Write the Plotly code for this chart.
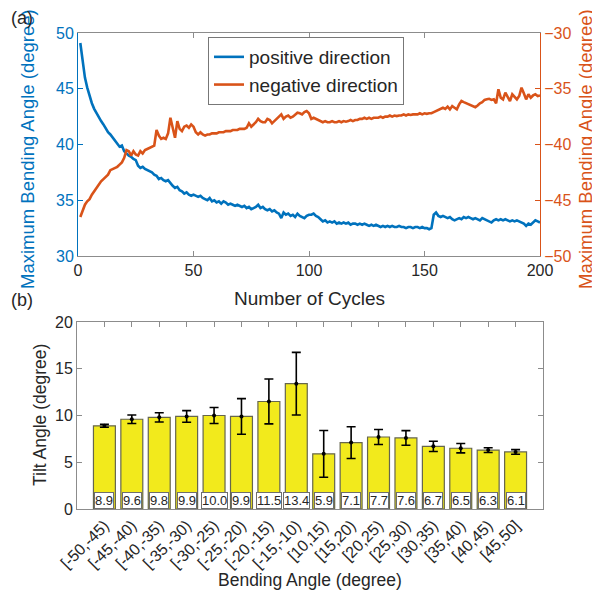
import plotly.graph_objects as go

cycles = list(range(1, 201))

positive = [
    49.1, 47.3, 46.0, 45.1, 44.3, 43.7, 43.2, 42.8, 42.4, 42.1,
    41.8, 41.4, 41.1, 40.9, 40.6, 40.3, 40.0, 39.8, 39.9, 39.4,
    39.2, 39.0, 38.9, 38.7, 38.6, 38.1, 37.9, 38.0, 37.8, 37.7,
    37.6, 37.5, 37.3, 37.2, 36.9, 37.0, 36.8, 36.7, 36.8, 36.5,
    36.3, 36.1, 36.2, 35.9, 35.8, 35.6, 35.7, 35.5, 35.4, 35.5,
    35.4, 35.3, 35.4, 35.2, 35.1, 35.0, 35.2, 34.9, 35.0, 34.8,
    34.9, 34.7, 34.9, 34.8, 34.6, 34.7, 34.6, 34.5, 34.6, 34.5,
    34.4, 34.5, 34.3, 34.4, 34.2, 34.3, 34.4, 34.6, 34.3, 34.4,
    34.2, 34.1, 34.2, 34.0, 34.1, 33.9, 33.8, 33.4, 33.9, 33.7,
    33.8, 33.6, 33.7, 33.5, 33.8, 33.6, 33.5, 33.4, 33.6, 33.7,
    33.7, 33.8, 33.6, 33.5, 33.3, 33.1, 33.2, 33.0, 33.1, 33.0,
    33.1, 32.9, 33.0, 32.9, 33.0, 32.9, 33.0, 32.8, 32.9, 32.9,
    32.8, 32.9, 32.8, 32.9, 32.8, 32.7, 32.8, 32.7, 32.8, 32.7,
    32.6, 32.7, 32.6, 32.7, 32.6, 32.7, 32.6, 32.6, 32.7, 32.6,
    32.6, 32.5, 32.6, 32.6, 32.5, 32.6, 32.6, 32.5, 32.6, 32.5,
    32.5, 32.4, 32.5, 33.7, 33.9, 33.6, 33.5, 33.6, 33.5, 33.4,
    33.5, 33.3, 33.2, 33.3, 33.4, 33.3, 33.5, 33.4, 33.5, 33.4,
    33.3, 33.4, 33.3, 33.2, 33.4, 33.3, 33.2, 33.1, 33.0, 33.2,
    33.3, 33.2, 33.3, 33.2, 33.3, 33.2, 33.1, 33.2, 33.1, 33.2,
    33.1, 33.0, 32.9, 32.7, 32.9, 32.8, 33.0, 33.2, 33.1, 33.0,
]

negative = [
    -46.5, -45.9, -45.4, -45.1, -44.9, -44.5, -44.2, -43.8, -43.5, -43.3,
    -43.1, -42.9, -42.7, -42.3, -42.2, -42.1, -42.0, -41.8, -41.6, -41.2,
    -40.5, -40.6, -41.0, -40.6, -40.9, -41.0, -40.6, -40.8, -40.5, -40.4,
    -40.3, -40.2, -40.1, -38.7, -39.2, -39.5, -39.4, -39.5, -39.0, -37.6,
    -38.4, -39.4, -37.9, -38.6, -38.8, -38.4, -38.3, -38.5, -38.2, -38.4,
    -38.9, -39.1, -38.9, -39.1, -39.2, -39.1, -39.1, -39.0, -39.0, -39.0,
    -38.9, -38.9, -38.9, -38.8, -38.8, -38.8, -38.7, -38.7, -38.7, -38.6,
    -38.6, -38.6, -38.5, -38.1, -38.4, -38.2, -38.0, -37.7, -37.9, -38.0,
    -38.0, -37.7, -37.8, -38.1, -37.9, -37.7, -37.5, -37.3, -37.7, -37.5,
    -37.4, -37.6, -37.5, -37.3, -37.15, -37.2, -37.3, -37.1, -37.0, -37.2,
    -37.7, -37.6, -37.7, -37.8, -37.9, -38.0, -37.9, -38.0, -38.0, -37.9,
    -38.0, -38.0, -37.9, -38.0, -37.9, -37.95, -37.9, -37.8, -37.9, -37.8,
    -37.8, -37.7, -37.7, -37.6, -37.7, -37.6, -37.7, -37.6, -37.6, -37.6,
    -37.5, -37.6, -37.5, -37.5, -37.4, -37.5, -37.4, -37.45, -37.4, -37.4,
    -37.3, -37.4, -37.3, -37.35, -37.3, -37.3, -37.3, -37.2, -37.3, -37.2,
    -37.25, -37.2, -37.2, -37.1, -37.0, -36.9, -36.8, -36.7, -36.8, -36.6,
    -36.85, -36.55, -36.7, -36.85, -36.4, -36.1, -36.2, -36.3, -36.4, -36.5,
    -36.6, -36.65, -36.5, -36.3, -36.2, -36.0, -35.95, -35.9, -36.0, -35.95,
    -36.3, -35.05, -35.8, -35.95, -35.35, -35.7, -36.1, -35.5, -35.7, -35.95,
    -35.65, -34.9, -35.4, -35.95, -35.5, -35.8, -35.6, -35.5, -35.65, -35.6,
]

bend_bins = ["[-50,-45)", "[-45,-40)", "[-40,-35)", "[-35,-30)", "[-30,-25)",
             "[-25,-20)", "[-20,-15)", "[-15,-10)", "[10,15)", "[15,20)",
             "[20,25)", "[25,30)", "[30,35)", "[35,40)", "[40,45)", "[45,50]"]
tilt_mean = [8.9, 9.6, 9.8, 9.9, 10.0, 9.9, 11.5, 13.4, 5.9, 7.1,
             7.7, 7.6, 6.7, 6.5, 6.3, 6.1]
tilt_err = [0.15, 0.45, 0.5, 0.62, 0.85, 1.9, 2.4, 3.35, 2.5, 1.7,
            0.8, 0.78, 0.55, 0.5, 0.25, 0.25]

BLUE = "#0072BD"
ORANGE = "#D95319"
TXT = "#262626"
FRAME = "#8c8c8c"
FONT = "Liberation Sans, Arial, sans-serif"

# page body has an 8px margin; figure is sized to fit the 600x597 window
OFF = 8
W, H = 600 - OFF, 597 - OFF


def px(x):
    return (x - OFF) / W


def py(y):
    return (597 - y) / H


fig = go.Figure()

fig.add_trace(go.Scatter(x=cycles, y=positive, mode="lines", name="positive direction",
                         line=dict(color=BLUE, width=2.6), xaxis="x", yaxis="y"))
fig.add_trace(go.Scatter(x=cycles, y=negative, mode="lines", name="negative direction",
                         line=dict(color=ORANGE, width=2.6), xaxis="x", yaxis="y2"))

fig.add_trace(go.Bar(x=bend_bins, y=tilt_mean, width=0.8,
                     marker=dict(color="#F2EA1C", line=dict(color="#66664d", width=1.2)),
                     showlegend=False, xaxis="x2", yaxis="y3"))
fig.add_trace(go.Scatter(x=bend_bins, y=tilt_mean, mode="markers",
                         marker=dict(color="black", size=4),
                         error_y=dict(type="data", array=tilt_err, color="black",
                                      thickness=1.6, width=4.5),
                         showlegend=False, xaxis="x2", yaxis="y3"))

annotations = []
for b, v in zip(bend_bins, tilt_mean):
    annotations.append(dict(x=b, y=0.93, xref="x2", yref="y3", text=f"{v:.1f}",
                            showarrow=False, bgcolor="white", bordercolor="#6e6e6e",
                            borderwidth=1, borderpad=0,
                            font=dict(size=13, color=TXT, family=FONT)))

annotations += [
    dict(text="Maximum Bending Angle (degree)", x=px(27), y=py(149),
         xref="paper", yref="paper", textangle=-90, showarrow=False,
         font=dict(size=18.5, color=BLUE, family=FONT), xanchor="center", yanchor="middle"),
    dict(text="Maximum Bending Angle (degree)", x=px(585), y=py(149),
         xref="paper", yref="paper", textangle=-90, showarrow=False,
         font=dict(size=18.5, color=ORANGE, family=FONT), xanchor="center", yanchor="middle"),
    dict(text="Number of Cycles", x=px(309), y=py(298),
         xref="paper", yref="paper", showarrow=False,
         font=dict(size=19, color=TXT, family=FONT), xanchor="center", yanchor="middle"),
    dict(text="Tilt Angle (degree)", x=px(40), y=py(415),
         xref="paper", yref="paper", textangle=-90, showarrow=False,
         font=dict(size=17.5, color=TXT, family=FONT), xanchor="center", yanchor="middle"),
    dict(text="Bending Angle (degree)", x=px(310), y=py(580),
         xref="paper", yref="paper", showarrow=False,
         font=dict(size=17.5, color=TXT, family=FONT), xanchor="center", yanchor="middle"),
    dict(text="(a)", x=px(9), y=py(18), xref="paper", yref="paper",
         showarrow=False, font=dict(size=18, color=TXT, family=FONT),
         xanchor="left", yanchor="middle"),
    dict(text="(b)", x=px(9), y=py(300), xref="paper", yref="paper",
         showarrow=False, font=dict(size=18, color=TXT, family=FONT),
         xanchor="left", yanchor="middle"),
]

tickfont = dict(size=16, color=TXT, family=FONT)

fig.update_layout(
    width=W, height=H,
    margin=dict(l=0, r=0, t=0, b=0, autoexpand=False),
    paper_bgcolor="white", plot_bgcolor="white",
    font=dict(family=FONT, color=TXT),
    annotations=annotations,
    showlegend=True,
    legend=dict(x=px(208), y=py(37), xanchor="left", yanchor="top",
                bgcolor="white", bordercolor="#777777", borderwidth=1,
                font=dict(size=19, color=TXT, family=FONT),
                tracegroupgap=0),
    xaxis=dict(domain=[px(78), px(540)], anchor="y", range=[0, 200],
               tickvals=[0, 50, 100, 150, 200], ticks="inside", ticklen=5,
               tickcolor=FRAME, showline=True, linecolor=FRAME, linewidth=1,
               mirror="ticks", showgrid=False, zeroline=False, tickfont=tickfont,
               automargin=False),
    yaxis=dict(domain=[py(256), py(33)], anchor="x",
               range=[30, 50], tickvals=[30, 35, 40, 45, 50], ticks="inside",
               ticklen=5, tickcolor=BLUE, showline=True, linecolor=BLUE, linewidth=1,
               showgrid=False, zeroline=False, automargin=False,
               tickfont=dict(size=16, color=BLUE, family=FONT)),
    yaxis2=dict(overlaying="y", side="right", anchor="x", range=[-50, -30],
                tickvals=[-50, -45, -40, -35, -30], ticks="inside", ticklen=5,
                tickcolor=ORANGE, showline=True, linecolor=ORANGE, linewidth=1,
                showgrid=False, zeroline=False, automargin=False,
                tickfont=dict(size=16, color=ORANGE, family=FONT)),
    xaxis2=dict(domain=[px(77), px(543)], anchor="y3", range=[-1, 16],
                type="category", tickangle=-45, ticks="inside", ticklen=5,
                tickcolor=FRAME, showline=True, linecolor=FRAME, linewidth=1,
                mirror="ticks", showgrid=False, zeroline=False, tickfont=tickfont,
                automargin=False),
    yaxis3=dict(domain=[py(509), py(322)], anchor="x2",
                range=[0, 20], tickvals=[0, 5, 10, 15, 20], ticks="inside", ticklen=5,
                tickcolor=FRAME, showline=True, linecolor=FRAME, linewidth=1,
                mirror="ticks", showgrid=False, zeroline=False, tickfont=tickfont,
                automargin=False),
)

fig.write_html("out.html")
